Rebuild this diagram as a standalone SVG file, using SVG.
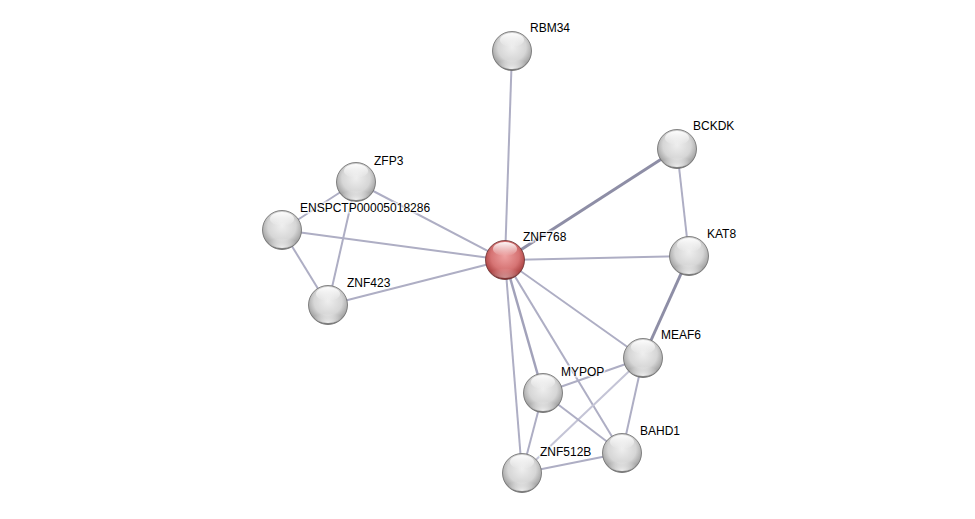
<svg xmlns="http://www.w3.org/2000/svg" width="975" height="519" viewBox="0 0 975 519">
<style>
.e{stroke:#aeaec4;stroke-width:2;fill:none}
.s{stroke:#8e8ea6;stroke-width:3}
.lbl{font-family:"Liberation Sans",Arial,sans-serif;font-size:12px;fill:#000;paint-order:stroke;stroke:#ffffff;stroke-width:3px;stroke-opacity:0.7}
</style>
<defs>
<radialGradient id="gw" cx="0.5" cy="0.4" r="0.6">
<stop offset="0" stop-color="#eeeeee"/>
<stop offset="0.6" stop-color="#d6d6d6"/>
<stop offset="0.88" stop-color="#a8a8a8"/>
<stop offset="1" stop-color="#6e6e6e"/>
</radialGradient>
<radialGradient id="gr" cx="0.5" cy="0.4" r="0.6">
<stop offset="0" stop-color="#eea0a0"/>
<stop offset="0.6" stop-color="#d67474"/>
<stop offset="0.88" stop-color="#b04848"/>
<stop offset="1" stop-color="#6e2828"/>
</radialGradient>
<linearGradient id="hl" x1="0" y1="0" x2="0" y2="1">
<stop offset="0" stop-color="#ffffff" stop-opacity="0.95"/>
<stop offset="1" stop-color="#ffffff" stop-opacity="0"/>
</linearGradient>
<radialGradient id="bot" cx="0.5" cy="1" r="0.7">
<stop offset="0" stop-color="#ffffff" stop-opacity="0.85"/>
<stop offset="1" stop-color="#ffffff" stop-opacity="0"/>
</radialGradient>
<g id="sw">
<circle r="19.5" fill="url(#gw)" stroke="#6a6a6a" stroke-width="0.8"/>
<ellipse cx="0" cy="11" rx="14" ry="7" fill="url(#bot)"/>
<ellipse cx="0" cy="-11" rx="12" ry="7" fill="url(#hl)"/>
</g>
<g id="sr">
<circle r="19.5" fill="url(#gr)" stroke="#6a3030" stroke-width="0.8"/>
<ellipse cx="0" cy="11" rx="14" ry="7" fill="url(#bot)" opacity="0.5"/>
<ellipse cx="0" cy="-11" rx="12" ry="7" fill="url(#hl)"/>
</g>
</defs>
<rect width="975" height="519" fill="#ffffff"/>
<g id="edges">
<line class="e" x1="505" y1="260" x2="512" y2="51"/>
<line class="e s" x1="505" y1="260" x2="677" y2="149"/>
<line class="e" x1="505" y1="260" x2="356" y2="182"/>
<line class="e" x1="505" y1="260" x2="282" y2="230"/>
<line class="e" x1="505" y1="260" x2="328" y2="305"/>
<line class="e" x1="505" y1="260" x2="689" y2="256"/>
<line class="e" x1="505" y1="260" x2="643" y2="358"/>
<line class="e" x1="505" y1="260" x2="543" y2="393" style="stroke-width:2.5;stroke:#a2a2ba"/>
<line class="e" x1="505" y1="260" x2="622" y2="453"/>
<line class="e" x1="505" y1="260" x2="522" y2="473"/>
<line class="e" x1="677" y1="149" x2="689" y2="256"/>
<line class="e s" x1="689" y1="256" x2="643" y2="358"/>
<line class="e" x1="356" y1="182" x2="282" y2="230"/>
<line class="e" x1="356" y1="182" x2="328" y2="305"/>
<line class="e" x1="282" y1="230" x2="328" y2="305"/>
<line class="e" x1="643" y1="358" x2="543" y2="393"/>
<line class="e" x1="643" y1="358" x2="622" y2="453"/>
<line class="e" x1="643" y1="358" x2="522" y2="473" style="stroke:#c4c4d6"/>
<line class="e" x1="543" y1="393" x2="622" y2="453"/>
<line class="e" x1="543" y1="393" x2="522" y2="473"/>
<line class="e" x1="622" y1="453" x2="522" y2="473"/>
</g>
<g id="RBM34"><use href="#sw" x="512" y="51"/><text class="lbl" x="530" y="32">RBM34</text></g>
<g id="BCKDK"><use href="#sw" x="677" y="149"/><text class="lbl" x="693" y="130">BCKDK</text></g>
<g id="ZFP3"><use href="#sw" x="356" y="182"/><text class="lbl" x="374" y="165">ZFP3</text></g>
<g id="ENSPCTP00005018286"><use href="#sw" x="282" y="230"/><text class="lbl" x="300" y="212">ENSPCTP00005018286</text></g>
<g id="ZNF423"><use href="#sw" x="328" y="305"/><text class="lbl" x="347" y="287">ZNF423</text></g>
<g id="KAT8"><use href="#sw" x="689" y="256"/><text class="lbl" x="707" y="238">KAT8</text></g>
<g id="MEAF6"><use href="#sw" x="643" y="358"/><text class="lbl" x="661" y="339">MEAF6</text></g>
<g id="MYPOP"><use href="#sw" x="543" y="393"/><text class="lbl" x="561" y="376">MYPOP</text></g>
<g id="BAHD1"><use href="#sw" x="622" y="453"/><text class="lbl" x="640" y="435">BAHD1</text></g>
<g id="ZNF512B"><use href="#sw" x="522" y="473"/><text class="lbl" x="540" y="456">ZNF512B</text></g>
<g id="ZNF768"><use href="#sr" x="505" y="260"/><text class="lbl" x="523" y="241">ZNF768</text></g>
</svg>
